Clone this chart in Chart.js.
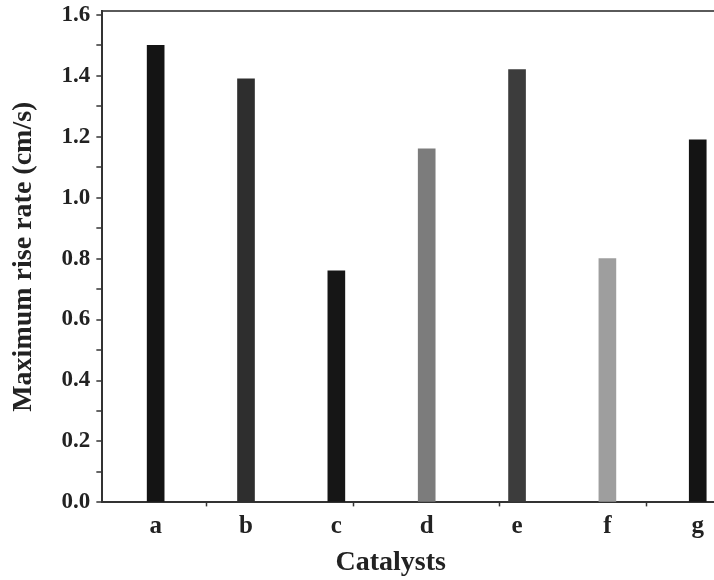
<!DOCTYPE html>
<html>
<head>
<meta charset="utf-8">
<script src="https://cdn.jsdelivr.net/npm/chart.js@4.4.1/dist/chart.umd.min.js"></script>
<style>
  body { margin: 0; background: #fff; overflow: hidden; }
  canvas { display: block; }
</style>
</head>
<body>
<canvas id="riseChart" width="714" height="580"></canvas>
<script>
// data
const catalysts = ['a', 'b', 'c', 'd', 'e', 'f', 'g'];
const catalystPos = [1, 2, 3, 4, 5, 6, 7];
const riseRate = [1.50, 1.39, 0.76, 1.16, 1.42, 0.80, 1.19];
const barColors = ['#141414', '#2e2e2e', '#161616', '#7c7c7c', '#3c3c3c', '#9e9e9e', '#141414'];

const yTicks = [0, 0.1, 0.2, 0.3, 0.4, 0.5, 0.6, 0.7, 0.8, 0.9, 1.0, 1.1, 1.2, 1.3, 1.4, 1.5, 1.6];
const yLabels = ['0.0', '', '0.2', '', '0.4', '', '0.6', '', '0.8', '', '1.0', '', '1.2', '', '1.4', '', '1.6'];
const xMarks = [1.56, 3.19, 4.81, 6.43];   // stray axis ticks between the bars

const xMin = 0.41, xMax = 7.18;
const yMax = 1.6125;

const serif = '"Liberation Serif", "DejaVu Serif", serif';
const axisColor = '#333';

const chartCanvas = document.getElementById('riseChart');

const myChart = new Chart(chartCanvas, {
    type: 'bar',
    data: {
        datasets: [{
            data: catalystPos.map((x, i) => ({ x: x, y: riseRate[i] })),
            backgroundColor: barColors,
            borderWidth: 0,
            barThickness: 17
        }]
    },
    options: {
        responsive: false,
        animation: false,
        layout: { padding: { left: 0, right: 0, top: 11, bottom: 0 } },
        plugins: {
            legend: { display: false },
            tooltip: { enabled: false }
        },
        scales: {
            x: {
                type: 'linear',
                min: xMin,
                max: xMax,
                offset: false,
                afterBuildTicks: (scale) => {
                    scale.ticks = catalystPos.concat(xMarks).map(v => ({ value: v }));
                },
                ticks: {
                    autoSkip: false,
                    maxRotation: 0,
                    padding: 5,
                    color: '#222',
                    font: { family: serif, size: 25, weight: 'bold' },
                    callback: (value) => {
                        const i = catalystPos.indexOf(value);
                        return i >= 0 ? catalysts[i] : '';
                    }
                },
                grid: {
                    offset: false,
                    drawOnChartArea: false,
                    tickLength: 4,
                    tickWidth: 1.5,
                    tickColor: (ctx) => catalystPos.includes(ctx.tick.value) ? 'rgba(0,0,0,0)' : axisColor
                },
                border: { color: axisColor, width: 2 },
                title: {
                    display: true,
                    // trailing spaces pull the centred title left, as in the figure
                    text: 'Catalysts\u00a0\u00a0\u00a0\u00a0\u00a0',
                    color: '#222',
                    font: { family: serif, size: 28, weight: 'bold' },
                    padding: { top: 0, bottom: 0 }
                }
            },
            y: {
                min: 0,
                max: yMax,
                afterBuildTicks: (scale) => {
                    scale.ticks = yTicks.concat([yMax]).map(v => ({ value: v }));
                },
                ticks: {
                    autoSkip: false,
                    padding: 6,
                    color: '#222',
                    // the top frame tick has no label, keep it tiny so it adds no padding
                    font: (ctx) => ({ family: serif, weight: 'bold', size: ctx.tick && ctx.tick.value === yMax ? 1 : 23 }),
                    callback: (value, index) => yLabels[index] !== undefined ? yLabels[index] : ''
                },
                grid: {
                    tickLength: 6,
                    tickWidth: 1.5,
                    lineWidth: 2,
                    color: (ctx) => ctx.tick && ctx.tick.value === yMax ? '#5a5a5a' : 'rgba(0,0,0,0)',
                    tickColor: (ctx) => ctx.tick && ctx.tick.value === yMax ? 'rgba(0,0,0,0)' : axisColor
                },
                border: { color: axisColor, width: 2 },
                title: {
                    display: true,
                    text: 'Maximum rise rate (cm/s)',
                    color: '#222',
                    font: { family: serif, size: 28, weight: 'bold' },
                    padding: { top: 7, bottom: 15 }
                }
            }
        }
    }
});
</script>
</body>
</html>
